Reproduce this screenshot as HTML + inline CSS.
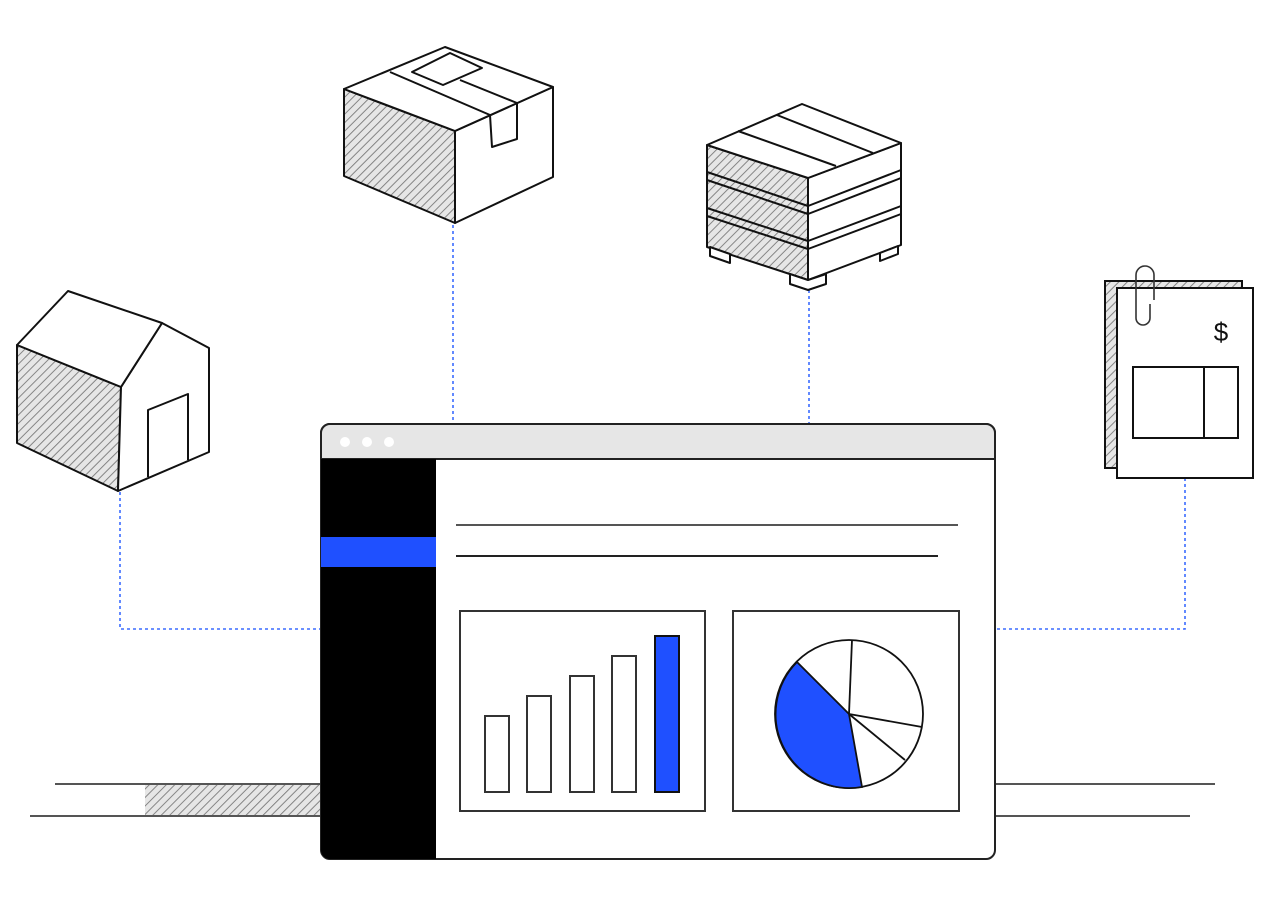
<!DOCTYPE html>
<html><head><style>html,body{margin:0;padding:0;background:#fff}svg{display:block}</style></head>
<body>
<svg width="1274" height="908" viewBox="0 0 1274 908" xmlns="http://www.w3.org/2000/svg">
<defs>
<pattern id="h" width="6" height="6" patternUnits="userSpaceOnUse" patternTransform="rotate(45)">
<rect width="6" height="6" fill="#e6e6e6"/><line x1="0" y1="0" x2="0" y2="6" stroke="#7a7a7a" stroke-width="1.8"/>
</pattern>
</defs>
<g fill="none" stroke="#3b6cff" stroke-width="1.6" stroke-dasharray="3,3">
<polyline points="120,492 120,629 320,629"/>
<line x1="453" y1="225" x2="453" y2="423"/>
<line x1="809" y1="290" x2="809" y2="423"/>
<polyline points="1185,478 1185,629 995,629"/>
</g>
<rect x="145" y="784" width="176" height="32" fill="url(#h)"/>
<g stroke="#555" stroke-width="2">
<line x1="55" y1="784" x2="321" y2="784"/><line x1="30" y1="816" x2="321" y2="816"/>
<line x1="995" y1="784" x2="1215" y2="784"/><line x1="995" y1="816" x2="1190" y2="816"/>
</g>
<g stroke="#111" stroke-width="2" stroke-linejoin="round" fill="#fff">
<polygon points="17,345 121,387 118,491 17,443" fill="url(#h)"/>
<polygon points="121,387 162,323 209,348 209,452 118,491" />
<polygon points="17,345 68,291 162,323 121,387"/>
<polyline points="148,477 148,410 188,394 188,460" fill="none"/>
</g>
<g stroke="#111" stroke-width="2" stroke-linejoin="round" fill="#fff">
<polygon points="344,89 455,131 455,223 344,176" fill="url(#h)"/>
<polygon points="455,131 553,87 553,177 455,223"/>
<polygon points="344,89 445,47 553,87 455,131"/>
<polyline points="390,72 490,115 492,147 517,139 517,103 460,80" fill="none"/>
<polygon points="412,72 450,53 482,68 443,85"/>
</g>
<g stroke="#111" stroke-width="2" stroke-linejoin="round" fill="#fff">
<polygon points="707,145 808,178 808,280 707,247" fill="url(#h)"/>
<polygon points="808,178 901,143 901,245 808,280"/>
<polygon points="707,145 802,104 901,143 808,178"/>
<line x1="738" y1="131" x2="836" y2="166"/><line x1="777" y1="115" x2="873" y2="153"/>
<line x1="707" y1="172" x2="808" y2="206"/><line x1="707" y1="180" x2="808" y2="214"/>
<line x1="808" y1="206" x2="901" y2="170"/><line x1="808" y1="214" x2="901" y2="178"/>
<line x1="707" y1="208" x2="808" y2="241"/><line x1="707" y1="216" x2="808" y2="249"/>
<line x1="808" y1="241" x2="901" y2="206"/><line x1="808" y1="249" x2="901" y2="214"/>
<polygon points="710,247 730,254 730,263 710,256"/>
<polygon points="790,274 808,280 826,274 826,284 808,290 790,284"/>
<polygon points="880,253 898,246 898,254 880,261"/>
</g>
<g stroke="#111" stroke-width="2" fill="#fff">
<rect x="1105" y="281" width="137" height="187" fill="url(#h)"/>
<rect x="1117" y="288" width="136" height="190"/>
<rect x="1133" y="367" width="105" height="71"/>
<line x1="1204" y1="367" x2="1204" y2="438"/>
<path d="M1150,304 V318 a7,7 0 0 1 -14,0 V275 a9,9 0 0 1 18,0 V300" fill="none" stroke="#333" stroke-width="1.6"/>
</g>
<text x="1221" y="341" font-family="Liberation Sans, sans-serif" font-size="26" text-anchor="middle" fill="#111">$</text>
<rect x="321" y="424" width="674" height="435" rx="9" fill="#fff" stroke="#222" stroke-width="2"/>
<path d="M321,459 V433 a9,9 0 0 1 9,-9 H986 a9,9 0 0 1 9,9 V459 Z" fill="#e6e6e6" stroke="#222" stroke-width="2"/>
<circle cx="345" cy="442" r="5" fill="#fff"/><circle cx="367" cy="442" r="5" fill="#fff"/><circle cx="389" cy="442" r="5" fill="#fff"/>
<path d="M321,459 H436 V859 H330 a9,9 0 0 1 -9,-9 Z" fill="#000"/>
<rect x="321" y="537" width="115" height="30" fill="#1f50ff"/>
<line x1="456" y1="525" x2="958" y2="525" stroke="#555" stroke-width="2"/>
<line x1="456" y1="556" x2="938" y2="556" stroke="#222" stroke-width="2"/>
<g stroke="#333" stroke-width="2" fill="#fff">
<rect x="460" y="611" width="245" height="200"/>
<rect x="733" y="611" width="226" height="200"/>
<rect x="485" y="716" width="24" height="76"/>
<rect x="527" y="696" width="24" height="96"/>
<rect x="570" y="676" width="24" height="116"/>
<rect x="612" y="656" width="24" height="136"/>
<rect x="655" y="636" width="24" height="156" fill="#1f50ff" stroke="#111"/>
</g>
<g stroke="#111" stroke-width="1.8" fill="#fff">
<circle cx="849" cy="714" r="74"/>
<path d="M849,714 L797,662 A74,74 0 0 0 862,787 Z" fill="#1f50ff"/>
<line x1="849" y1="714" x2="852" y2="640"/>
<line x1="849" y1="714" x2="922" y2="727"/>
<line x1="849" y1="714" x2="905" y2="760"/>
</g>
</svg>
</body></html>
